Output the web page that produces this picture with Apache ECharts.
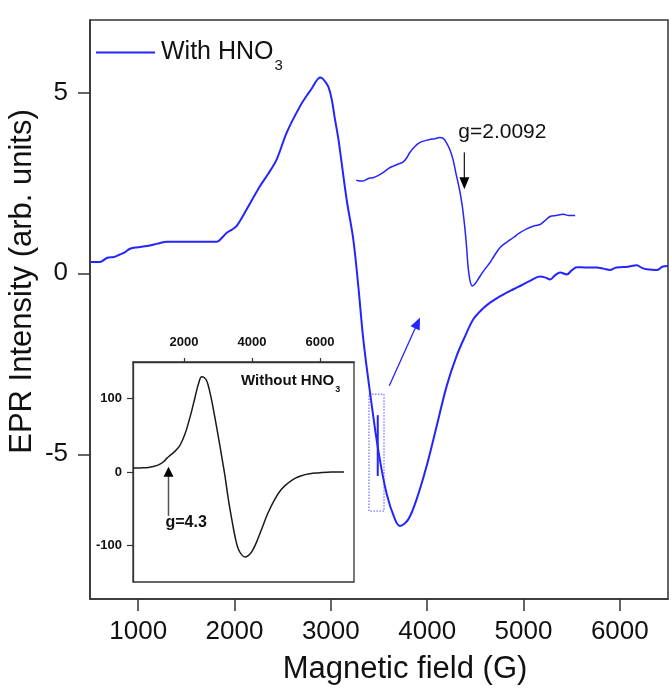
<!DOCTYPE html>
<html><head><meta charset="utf-8">
<script src="https://cdn.jsdelivr.net/npm/echarts@6/dist/echarts.min.js"></script>
<style>html,body{margin:0;padding:0;background:#fff}#c{width:671px;height:697px}</style>
</head><body><div id="c"></div>
<script>
// ---- data ----
const fieldWith = [500,600,680,750,810,860,915,1000,1123,1200,1296,1500,1815,1870,1919,1970,2023,2127,2265,2350,2438,2542,2681,2760,2800,2840,2870,2888,2910,2940,2975,3010,3040,3079,3164,3233,3285,3337,3407,3493,3580,3666,3718,3804,3891,3995,4099,4203,4306,4400,4479,4560,4653,4780,4895,4980,5068,5172,5230,5276,5330,5380,5449,5500,5553,5650,5761,5830,5899,5950,6003,6080,6176,6230,6280,6384,6440,6500];
const intensityWith = [0.31,0.31,0.43,0.45,0.52,0.58,0.68,0.72,0.77,0.82,0.87,0.87,0.87,0.98,1.12,1.2,1.31,1.77,2.41,2.75,3.15,3.89,4.62,4.95,5.1,5.28,5.38,5.41,5.39,5.3,5.15,4.8,4.3,3.7,2.04,0.94,-0.35,-1.82,-3.3,-4.9,-6.1,-6.8,-6.98,-6.8,-6.24,-5.32,-4.22,-3.11,-2.28,-1.7,-1.27,-1.02,-0.81,-0.6,-0.44,-0.33,-0.21,-0.09,-0.12,-0.17,-0.05,0.02,-0.03,0.08,0.17,0.16,0.16,0.13,0.09,0.15,0.17,0.18,0.22,0.15,0.11,0.09,0.18,0.2];
const fieldZoom = [3264,3300,3333,3390,3437,3490,3541,3600,3645,3700,3749,3790,3818,3870,3922,3970,4026,4080,4130,4170,4199,4235,4268,4300,4337,4365,4389,4410,4424,4445,4469,4500,4527,4590,4653,4700,4757,4820,4895,4960,5033,5100,5172,5220,5276,5340,5414,5470,5536];
const intensityZoom = [2.57,2.55,2.55,2.62,2.64,2.7,2.78,2.9,2.96,3.02,3.07,3.2,3.33,3.5,3.61,3.66,3.7,3.72,3.75,3.72,3.61,3.42,3.15,2.75,2.3,1.85,1.31,0.7,0.2,-0.2,-0.35,-0.28,-0.17,0.08,0.3,0.5,0.71,0.85,0.99,1.12,1.23,1.3,1.35,1.45,1.57,1.6,1.63,1.6,1.6];
const fieldWithout = [500,700,957,1100,1251,1400,1497,1600,1691,1790,1887,2034,2130,2230,2330,2424,2523,2600,2670,2740,2817,2910,3010,3110,3207,3300,3403,3500,3597,3700,3793,3890,3990,4130,4283,4470,4673,4860,5063,5250,5456,5700,5943,6336,6705];
const intensityWithout = [5.4,5.6,6.2,7.5,9.8,14,18.9,23,26.4,31,36.8,52.6,67,84,103,120,129.8,128.5,124,113,97,74,48,21,-6,-36,-64,-88,-105,-113,-116,-114,-109,-96,-78,-56,-37,-24,-15,-9,-5,-2.5,-1.3,0,0];
const mainXTicks = [1000,2000,3000,4000,5000,6000];
const mainYTicks = [-5,0,5];
const insetXTicks = [2000,4000,6000];
const insetYTicks = [-100,0,100];

const FONT = "'Liberation Sans', Arial, Helvetica, sans-serif";
const BLUE = '#2424ff';
const AX = '#333';
const TXT = '#111';
const plain = v => String(v);

const chart = echarts.init(document.getElementById('c'), null, {renderer:'canvas'});
const zip = (a,b)=>a.map((x,i)=>[x,b[i]]);

chart.setOption({
  animation:false,
  backgroundColor:'#fff',
  textStyle:{fontFamily:FONT},
  grid:[
    {left:90, top:20, width:578, height:579, show:true, borderColor:AX, borderWidth:1.5, backgroundColor:'transparent', containLabel:false, outerBoundsMode:'none'},
    {left:133, top:362, width:221, height:220, show:true, borderColor:AX, borderWidth:1.3, backgroundColor:'transparent', containLabel:false, outerBoundsMode:'none'}
  ],
  legend:{
    data:['With HNO3'], left:96, top:32, padding:0, icon:'rect', itemWidth:59, itemHeight:2,
    formatter:()=>'{a|With HNO}{s|3}',
    textStyle:{fontFamily:FONT, rich:{
      a:{fontSize:25, color:TXT, fontFamily:FONT, lineHeight:25, padding:[0,0,0,1]},
      s:{fontSize:15, color:TXT, fontFamily:FONT, lineHeight:15, padding:[26,0,0,1]}
    }}
  },
  xAxis:[
    {gridIndex:0, type:'value', min:500, max:6500, splitLine:{show:false},
     axisLine:{show:true, onZero:false, lineStyle:{color:AX, width:1.5}},
     axisTick:{show:true, length:12, customValues:mainXTicks, lineStyle:{color:AX, width:1.5}},
     axisLabel:{customValues:mainXTicks, formatter:plain, fontSize:26, color:TXT, margin:20, fontFamily:FONT},
     name:'Magnetic field (G)', nameLocation:'middle', nameGap:55, nameMoveOverlap:false,
     nameTextStyle:{fontSize:31, color:TXT, fontFamily:FONT, padding:[0,0,0,52]}},
    {gridIndex:1, type:'value', position:'top', min:500, max:7000, splitLine:{show:false},
     axisLine:{show:true, onZero:false, lineStyle:{color:AX, width:1.3}},
     axisTick:{show:true, length:4, customValues:insetXTicks, lineStyle:{color:AX, width:1.2}},
     axisLabel:{customValues:insetXTicks, formatter:plain, fontSize:13, fontWeight:'bold', color:TXT, margin:13, fontFamily:FONT}}
  ],
  yAxis:[
    {gridIndex:0, type:'value', min:-9, max:7, splitLine:{show:false},
     axisLine:{show:true, onZero:false, lineStyle:{color:AX, width:1.5}},
     axisTick:{show:true, length:12, customValues:mainYTicks, lineStyle:{color:AX, width:1.5}},
     axisLabel:{customValues:mainYTicks, formatter:plain, fontSize:26, color:TXT, margin:22, fontFamily:FONT},
     name:'EPR Intensity (arb. units)', nameLocation:'middle', nameGap:52, nameMoveOverlap:false,
     nameTextStyle:{fontSize:31, color:TXT, fontFamily:FONT, padding:[0,0,0,56]}},
    {gridIndex:1, type:'value', min:-150, max:150, splitLine:{show:false},
     axisLine:{show:true, onZero:false, lineStyle:{color:AX, width:1.3}},
     axisTick:{show:true, length:6, customValues:insetYTicks, lineStyle:{color:AX, width:1.2}},
     axisLabel:{customValues:insetYTicks, formatter:plain, fontSize:13, fontWeight:'bold', color:TXT, margin:11, fontFamily:FONT}}
  ],
  series:[
    {type:'line', name:'With HNO3', xAxisIndex:0, yAxisIndex:0, data:zip(fieldWith,intensityWith),
     symbol:'none', showSymbol:false, smooth:0.35, clip:true,
     lineStyle:{color:BLUE, width:2}, itemStyle:{color:BLUE}},
    {type:'line', name:'With HNO3 (expanded)', xAxisIndex:0, yAxisIndex:0, data:zip(fieldZoom,intensityZoom),
     symbol:'none', showSymbol:false, smooth:0.35, clip:true,
     lineStyle:{color:BLUE, width:1.5}, itemStyle:{color:BLUE}},
    {type:'line', name:'Without HNO3', xAxisIndex:1, yAxisIndex:1, data:zip(fieldWithout,intensityWithout),
     symbol:'none', showSymbol:false, smooth:0.4, clip:true,
     lineStyle:{color:'#1a1a1a', width:1.5}, itemStyle:{color:'#1a1a1a'}}
  ]
});

// ---- annotations, anchored in data coordinates ----
const P = (g,v)=>chart.convertToPixel({gridIndex:0},[g,v]);
const Q = (g,v)=>chart.convertToPixel({gridIndex:1},[g,v]);
function arrow(p0,p1,lineColor,headColor,lw,headLen,headW){
  const dx=p1[0]-p0[0], dy=p1[1]-p0[1], L=Math.hypot(dx,dy), ux=dx/L, uy=dy/L;
  const bx=p1[0]-ux*headLen, by=p1[1]-uy*headLen, px=-uy, py=ux;
  return [
    {type:'line', z:100, shape:{x1:p0[0],y1:p0[1],x2:bx+ux,y2:by+uy}, style:{stroke:lineColor, lineWidth:lw}},
    {type:'polygon', z:100, shape:{points:[[p1[0],p1[1]],[bx+px*headW/2,by+py*headW/2],[bx-px*headW/2,by-py*headW/2]]}, style:{fill:headColor}}
  ];
}
const g2From=P(4386,3.34), g2To=P(4386,2.32);
const g2Txt=P(4323,3.9);
const bFrom=P(3607,-3.11), bTo=P(3926,-1.22);
const r0=P(3396,-3.34), r1=P(3552,-6.57);
const m0=P(3487,-3.92), m1=P(3487,-5.6);
const g4From=Q(1544,-60), g4To=Q(1544,7);
const g4Txt=Q(1456,-69);
const woTxt=Q(3676,124);

const graphics = [].concat(
  arrow(g2From,g2To,'#222','#000',1.3,12,10),
  arrow(bFrom,bTo,BLUE,BLUE,1.3,12,10),
  arrow(g4From,g4To,'#555','#000',1.5,10,10),
  [
    {type:'text', z:100, style:{text:'g=2.0092', x:g2Txt[0], y:g2Txt[1], align:'left', verticalAlign:'middle', fontSize:21, fontFamily:FONT, fill:TXT}},
    {type:'rect', z:100, shape:{x:r0[0], y:r0[1], width:r1[0]-r0[0], height:r1[1]-r0[1]}, style:{fill:'none', stroke:BLUE, lineWidth:1, lineDash:[1.5,1.5], opacity:0.8}},
    {type:'line', z:100, shape:{x1:m0[0], y1:m0[1], x2:m1[0], y2:m1[1]}, style:{stroke:BLUE, lineWidth:2}},
    {type:'text', z:100, style:{text:'g=4.3', x:g4Txt[0], y:g4Txt[1], align:'left', verticalAlign:'middle', fontSize:16, fontWeight:'bold', fontFamily:FONT, fill:TXT}},
    {type:'text', z:100, style:{text:'{b|Without HNO}{s|3}', x:woTxt[0], y:woTxt[1], align:'left', verticalAlign:'middle',
      rich:{b:{fontSize:15, fontWeight:'bold', fontFamily:FONT, fill:TXT, color:TXT, lineHeight:15},
            s:{fontSize:9, fontWeight:'bold', fontFamily:FONT, fill:TXT, color:TXT, lineHeight:9, padding:[16,0,0,1]}}}}
  ]
);
chart.setOption({graphic:graphics});
</script></body></html>
